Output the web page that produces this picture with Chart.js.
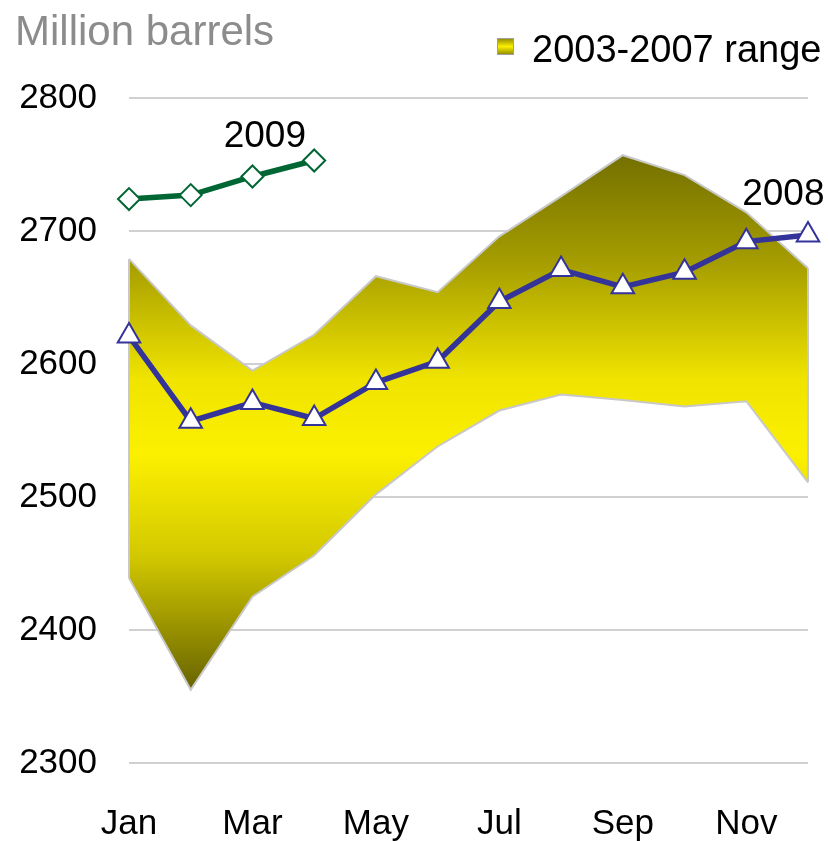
<!DOCTYPE html>
<html><head><meta charset="utf-8">
<script src="https://cdn.jsdelivr.net/npm/chart.js@4/dist/chart.umd.min.js"></script>
<style>html,body{margin:0;padding:0;background:#fff;}#wrap{position:relative;width:829px;height:841px;}</style>
</head><body><div id="wrap"><canvas id="c" width="829" height="841"></canvas></div>
<script>
const months = ['Jan','Feb','Mar','Apr','May','Jun','Jul','Aug','Sep','Oct','Nov','Dec'];
const shownMonths = ['Jan','Mar','May','Jul','Sep','Nov'];
const rangeHigh = [2679,2629,2595,2622,2666,2654,2696,2726,2757,2742,2714,2672];
const rangeLow  = [2439,2355,2425,2456,2502,2538,2565,2577,2573,2568,2572,2511];
const series2008 = [2621,2557,2571,2559,2586,2602,2647,2671,2658,2669,2692,2697];
const series2009 = [2724,2727,2741,2753];
const yMin = 2300, yMax = 2800, yStep = 100;
const titleText = 'Million barrels';
const legendText = '2003-2007 range';
const seriesLabels = [{text:'2009', x:2.2, y:2771}, {text:'2008', x:10.6, y:2727}];

const FONT = '"Liberation Sans", Arial, sans-serif';
const DARK_TOP = '#747000', BRIGHT = '#fcf000', DARK_BOT = '#676300';

function bandGradient(chart){
  const {ctx, chartArea, scales} = chart;
  if (!chartArea) return BRIGHT;
  const top = scales.y.getPixelForValue(Math.max(...rangeHigh));
  const bot = scales.y.getPixelForValue(Math.min(...rangeLow));
  const g = ctx.createLinearGradient(0, top, 0, bot);
  g.addColorStop(0, DARK_TOP);
  g.addColorStop(0.2, '#a59d00');
  g.addColorStop(0.42, '#f0e400');
  g.addColorStop(0.56, BRIGHT);
  g.addColorStop(0.75, '#d2c800');
  g.addColorStop(1, DARK_BOT);
  return g;
}

const decor = {
  id: 'decor',
  beforeDatasetsDraw(chart){
    const {ctx, scales} = chart;
    ctx.save();
    ctx.strokeStyle = '#c8c8c8';
    ctx.lineWidth = 2;
    [0, months.length - 1].forEach(i => {
      const x = scales.x.getPixelForValue(i);
      ctx.beginPath();
      ctx.moveTo(x, scales.y.getPixelForValue(rangeHigh[i]));
      ctx.lineTo(x, scales.y.getPixelForValue(rangeLow[i]));
      ctx.stroke();
    });
    ctx.restore();
  },
  afterDraw(chart){
    const {ctx, scales} = chart;
    ctx.save();
    ctx.textBaseline = 'alphabetic';
    ctx.textAlign = 'left';
    ctx.fillStyle = '#8c8c8c';
    ctx.font = '42px ' + FONT;
    ctx.fillText(titleText, 15, 45);
    // legend
    const g = ctx.createLinearGradient(0, 38, 0, 55);
    g.addColorStop(0, '#8a8400'); g.addColorStop(0.5, BRIGHT); g.addColorStop(1, '#8a8400');
    ctx.fillStyle = g;
    ctx.fillRect(497, 38, 17, 17);
    ctx.strokeStyle = '#a0a0a0'; ctx.lineWidth = 1;
    ctx.strokeRect(497.5, 38.5, 16, 16);
    ctx.fillStyle = '#000';
    ctx.font = '38px ' + FONT;
    ctx.fillText(legendText, 532, 62);
    // series labels
    ctx.textAlign = 'center';
    ctx.textBaseline = 'middle';
    ctx.font = '37px ' + FONT;
    seriesLabels.forEach(l => {
      ctx.fillText(l.text, scales.x.getPixelForValue(l.x), scales.y.getPixelForValue(l.y));
    });
    ctx.restore();
  }
};

new Chart(document.getElementById('c'), {
  type: 'line',
  data: {
    labels: months,
    datasets: [
      {label: legendText, data: rangeHigh, borderColor: '#c8c8c8', borderWidth: 2, pointRadius: 0,
       fill: 1, backgroundColor: ctx => bandGradient(ctx.chart), order: 3, tension: 0},
      {label: 'low', data: rangeLow, borderColor: '#c8c8c8', borderWidth: 2, pointRadius: 0,
       fill: false, order: 2, tension: 0},
      {label: '2008', data: series2008, borderColor: '#333399', borderWidth: 5.5, tension: 0,
       pointStyle: 'triangle', pointRadius: 13, pointBackgroundColor: '#fff',
       pointBorderColor: '#333399', pointBorderWidth: 2, fill: false, order: 0},
      {label: '2009', data: series2009, borderColor: '#006633', borderWidth: 5.5, tension: 0,
       pointStyle: 'rectRot', pointRadius: 11, pointBackgroundColor: '#fff',
       pointBorderColor: '#006633', pointBorderWidth: 2, fill: false, order: 1}
    ]
  },
  options: {
    responsive: false,
    animation: false,
    devicePixelRatio: 1,
    layout: {padding: {top: 98, right: 21, left: 0, bottom: 0}},
    plugins: {
      legend: {display: false},
      title: {display: false},
      tooltip: {enabled: false},
      filler: {drawTime: 'beforeDatasetsDraw'}
    },
    scales: {
      x: {
        offset: false,
        grid: {display: false, drawTicks: false},
        border: {display: false},
        ticks: {
          autoSkip: false, maxRotation: 0, minRotation: 0, padding: 40,
          color: '#000', font: {size: 35, family: FONT},
          callback: (v, i) => shownMonths.includes(months[i]) ? months[i] : ''
        },
        afterFit: s => { s.height = 78; s.paddingLeft = 0; s.paddingRight = 0; }
      },
      y: {
        min: yMin, max: yMax,
        grid: {color: '#d0d0d0', lineWidth: 2, drawTicks: false},
        border: {display: false},
        ticks: {stepSize: yStep, padding: 32, color: '#000', font: {size: 35, family: FONT},
          callback: v => String(v)},
        afterFit: s => { s.width = 129; s.paddingTop = 0; s.paddingBottom = 0; }
      }
    }
  },
  plugins: [decor]
});
</script>
</body></html>
